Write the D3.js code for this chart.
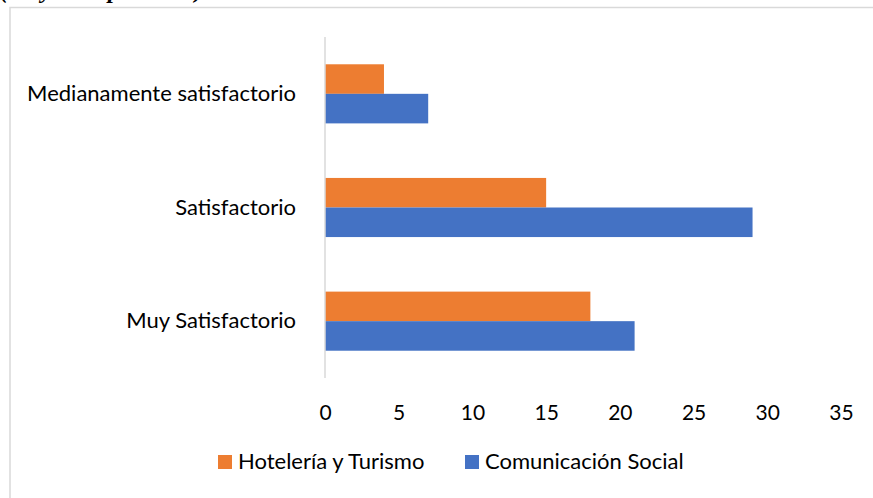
<!DOCTYPE html>
<html>
<head>
<meta charset="utf-8">
<script src="https://cdn.jsdelivr.net/npm/d3@7"></script>
<style>
  body { margin: 0; background: #fff; }
  text { font-family: Lato, "Open Sans", sans-serif; fill: #000; }
</style>
</head>
<body>
<div class="chart"></div>
<script>
var svgWidth = 873;
var svgHeight = 498;

// Data
var categories = ["Medianamente satisfactorio", "Satisfactorio", "Muy Satisfactorio"];
var seriesNames = ["Hotelería y Turismo", "Comunicación Social"];
var hoteleria = [4, 15, 18];
var comunicacion = [7, 29, 21];
var xTicks = [0, 5, 10, 15, 20, 25, 30, 35];
var colors = ["#ED7D31", "#4472C4"];

var rows = categories.map(function(c, i) {
  return { cat: c, values: [hoteleria[i], comunicacion[i]] };
});

var svg = d3.select(".chart")
  .append("svg")
  .attr("width", svgWidth)
  .attr("height", svgHeight);

// caption above the chart frame (cut off by the page edge in the original)
svg.append("text")
  .attr("x", 0)
  .attr("y", -2)
  .style("font-family", "'Liberation Serif', 'DejaVu Serif', serif")
  .style("font-style", "italic")
  .style("font-weight", "bold")
  .style("font-size", "24px")
  .text("(Mayo - Septiembre)");

// chart frame
svg.append("rect")
  .attr("x", 10)
  .attr("y", 7.5)
  .attr("width", 880)
  .attr("height", 500)
  .attr("fill", "none")
  .attr("stroke", "#d9d9d9")
  .attr("stroke-width", 1.5);

// scales
var x = d3.scaleLinear()
  .domain([0, 35])
  .range([325, 841]);

var y0 = d3.scaleBand()
  .domain(categories)
  .range([37, 378])
  .paddingInner(0.48)
  .paddingOuter(0.24);

var y1 = d3.scaleBand()
  .domain([0, 1])
  .range([0, y0.bandwidth()]);

// bars
var groups = svg.selectAll(".group")
  .data(rows)
  .enter()
  .append("g")
  .attr("class", "group")
  .attr("transform", d => `translate(0, ${y0(d.cat)})`);

groups.selectAll("rect")
  .data(d => d.values)
  .enter()
  .append("rect")
  .attr("x", x(0))
  .attr("y", (d, i) => y1(i))
  .attr("width", d => x(d) - x(0))
  .attr("height", y1.bandwidth())
  .attr("fill", (d, i) => colors[i]);

// category axis
var leftAxis = d3.axisLeft(y0).tickSize(0).tickPadding(29);
var yAxisG = svg.append("g")
  .attr("transform", `translate(${x(0)}, 0)`)
  .call(leftAxis);
yAxisG.select(".domain").remove();
yAxisG.selectAll("text")
  .style("font-size", "22px")
  .style("font-family", "Lato, sans-serif");

svg.append("line")
  .attr("x1", x(0))
  .attr("x2", x(0))
  .attr("y1", 37)
  .attr("y2", 378)
  .attr("stroke", "#d9d9d9")
  .attr("stroke-width", 1.5);

// value axis (labels only)
var bottomAxis = d3.axisBottom(x).tickValues(xTicks).tickSize(0).tickPadding(27);
var xAxisG = svg.append("g")
  .attr("transform", "translate(0, 378)")
  .call(bottomAxis);
xAxisG.select(".domain").remove();
xAxisG.selectAll("text")
  .style("font-size", "21px")
  .style("font-family", "Lato, sans-serif");

// legend
var legendX = [218, 465];
var legend = svg.selectAll(".legend")
  .data(seriesNames)
  .enter()
  .append("g")
  .attr("class", "legend")
  .attr("transform", (d, i) => `translate(${legendX[i]}, 455)`);

legend.append("rect")
  .attr("width", 14)
  .attr("height", 14)
  .attr("fill", (d, i) => colors[i]);

legend.append("text")
  .attr("x", 20)
  .attr("y", 14)
  .style("font-size", "22px")
  .text(d => d);
</script>
</body>
</html>
